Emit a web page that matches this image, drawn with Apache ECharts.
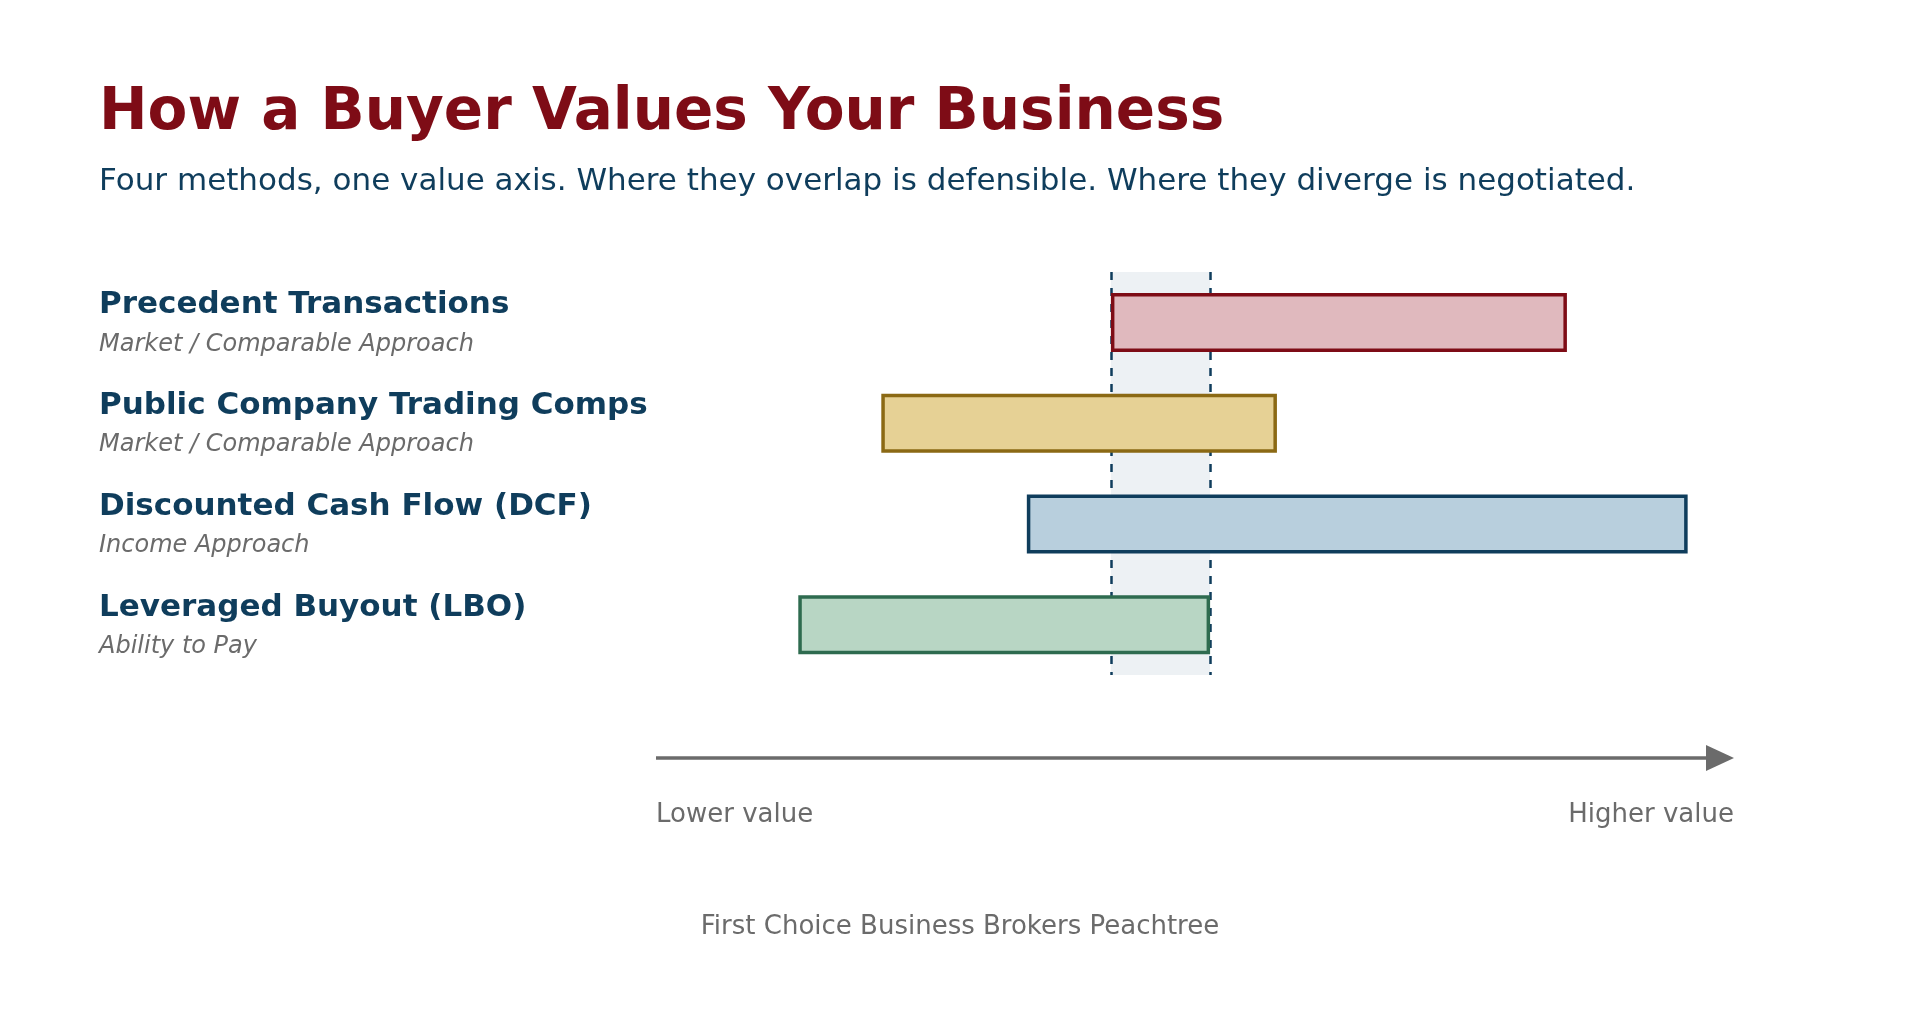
<!DOCTYPE html>
<html><head><meta charset="utf-8">
<script src="https://cdn.jsdelivr.net/npm/echarts@6/dist/echarts.min.js"></script>
<style>html,body{margin:0;background:#fff}#main{width:1920px;height:1017px}</style>
</head><body><div id="main"></div>
<script>
// data (value axis 0 = lower, 100 = higher)
var methods = ['Precedent Transactions', 'Public Company Trading Comps', 'Discounted Cash Flow (DCF)', 'Leveraged Buyout (LBO)'];
var approaches = ['Market / Comparable Approach', 'Market / Comparable Approach', 'Income Approach', 'Ability to Pay'];
var lows = [42.2, 20.9, 34.4, 13.2];
var highs = [84.5, 57.6, 95.7, 51.4];
var overlap = [42.2, 51.4];
var fills = ['#e0b9be', '#e6d195', '#b8cfdd', '#b8d6c4'];
var strokes = ['#7e0c16', '#8b6914', '#0f3d5c', '#2e6b4f'];

var font = '"DejaVu Sans", sans-serif';
var chart = echarts.init(document.getElementById('main'));

var option = {
    backgroundColor: '#fff',
    textStyle: {fontFamily: font},
    title: [
        {text: 'How a Buyer Values Your Business', left: 94, top: 80,
         textStyle: {fontFamily: font, fontSize: 58, fontWeight: 'bold', color: '#7e0c16'}},
        {text: 'Four methods, one value axis. Where they overlap is defensible. Where they diverge is negotiated.',
         left: 94, top: 161, textStyle: {fontFamily: font, fontSize: 31, fontWeight: 'normal', color: '#0f3d5c'}},
        {text: 'First Choice Business Brokers Peachtree', left: 'center', top: 909,
         textStyle: {fontFamily: font, fontSize: 26, fontWeight: 'normal', color: '#6b6b6b'}}
    ],
    grid: {left: 656, right: 186, top: 272, height: 403},
    xAxis: {type: 'value', min: 0, max: 100, show: false},
    yAxis: {
        type: 'category', data: methods, inverse: true,
        axisLine: {show: false}, axisTick: {show: false},
        axisLabel: {
            align: 'left', margin: 557,
            formatter: function (v, i) { return '{a|' + v + '}\n{b|' + approaches[i] + '}'; },
            rich: {
                a: {fontFamily: font, fontSize: 31, fontWeight: 'bold', color: '#0f3d5c', lineHeight: 44},
                b: {fontFamily: font, fontSize: 24, fontStyle: 'italic', color: '#6b6b6b', lineHeight: 34}
            }
        }
    },
    graphic: [
        {type: 'line', shape: {x1: 656, y1: 758, x2: 1710, y2: 758},
         style: {stroke: '#6b6b6b', lineWidth: 3.5}},
        {type: 'polygon', shape: {points: [[1706, 745], [1734, 758], [1706, 771]]},
         style: {fill: '#6b6b6b'}},
        {type: 'text', left: 656, top: 802, style: {text: 'Lower value', font: '26px ' + font, fill: '#6b6b6b'}},
        {type: 'text', right: 186, top: 802, style: {text: 'Higher value', font: '26px ' + font, fill: '#6b6b6b'}}
    ],
    series: [{
        type: 'bar', stack: 'r', barWidth: 59, silent: true,
        itemStyle: {color: 'transparent'},
        data: lows,
        z: 1,
        markArea: {
            silent: true, itemStyle: {color: '#edf1f4'},
            data: [[{xAxis: overlap[0]}, {xAxis: overlap[1]}]]
        },
        markLine: {
            silent: true, symbol: 'none', label: {show: false},
            lineStyle: {color: '#0f3d5c', type: [8, 8], width: 2.5},
            data: [{xAxis: overlap[0]}, {xAxis: overlap[1]}]
        }
    }, {
        type: 'bar', stack: 'r', barWidth: 59, z: 5,
        data: lows.map(function (l, i) {
            return {value: highs[i] - l, itemStyle: {color: fills[i], borderColor: strokes[i], borderWidth: 3.5}};
        })
    }]
};
chart.setOption(option);
</script></body></html>
